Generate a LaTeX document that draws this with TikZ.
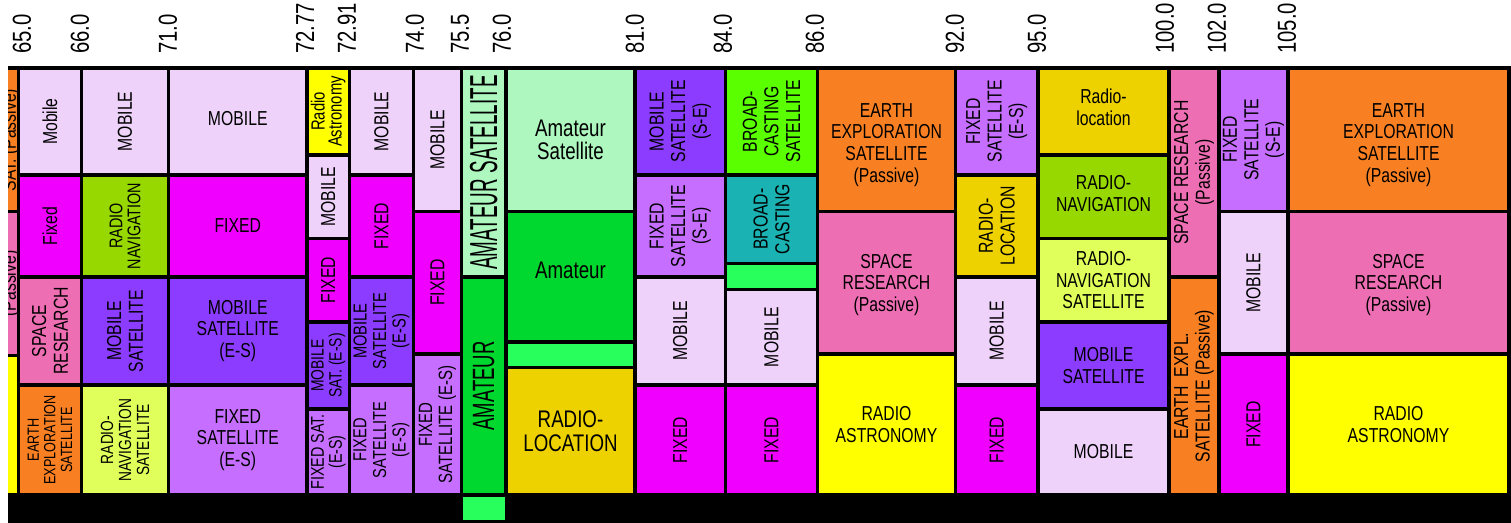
\documentclass[tikz,border=0pt]{standalone}
\usepackage{fontspec}
\setmainfont{Liberation Sans}[FakeStretch=0.78]
\definecolor{mob}{HTML}{EED2FA}
\definecolor{fix}{HTML}{F000FF}
\definecolor{mobsat}{HTML}{8C3CFF}
\definecolor{fixsat}{HTML}{C66EFF}
\definecolor{spr}{HTML}{EE6EB4}
\definecolor{ees}{HTML}{F98022}
\definecolor{ras}{HTML}{FFFF00}
\definecolor{rnav}{HTML}{96D800}
\definecolor{rnsat}{HTML}{E0FF5A}
\definecolor{amsat}{HTML}{AEF7BE}
\definecolor{am}{HTML}{00D830}
\definecolor{brg}{HTML}{28FF5C}
\definecolor{rloc}{HTML}{EED200}
\definecolor{bcs}{HTML}{5AFF00}
\definecolor{bc}{HTML}{1AB2B2}
\newcommand\basefont{\fontsize{10.1}{10.8}\selectfont}
\newcommand\labfont{\fontsize{13}{13}\selectfont}
\tikzset{
  cellframe/.style={draw=black, line width=1.85pt},
  celltext/.style={align=center, inner sep=0pt, font=\basefont, text=black},
  v/.style={rotate=90},
  lab/.style={rotate=90, anchor=west, inner sep=0pt, font=\labfont},
}
% name, x1, y1, x2, y2, fill, node options, text
\newcommand\bandcell[8]{%
  \path[cellframe, fill=#6] (#2,#3) rectangle (#4,#5);
  \node[celltext,#7] (#1) at ({(#2+#4)/2},{(#3+#5)/2}) {#8};}
\begin{document}
\begin{tikzpicture}[x=0.5pt,y=-0.5pt]
\useasboundingbox (0,0) rectangle (1511,523);
% frequency labels
\node[lab] (f650) at (22,54) {65.0};
\node[lab] (f660) at (80,54) {66.0};
\node[lab] (f710) at (168,54) {71.0};
\node[lab] (f7277) at (305,54) {72.77};
\node[lab] (f7291) at (347,54) {72.91};
\node[lab] (f740) at (415,54) {74.0};
\node[lab] (f755) at (460,54) {75.5};
\node[lab] (f760) at (502,54) {76.0};
\node[lab] (f810) at (635,54) {81.0};
\node[lab] (f840) at (723,54) {84.0};
\node[lab] (f860) at (815,54) {86.0};
\node[lab] (f920) at (955,54) {92.0};
\node[lab] (f950) at (1037,54) {95.0};
\node[lab] (f1000) at (1165,54) {100.0};
\node[lab] (f1020) at (1217,54) {102.0};
\node[lab] (f1050) at (1287,54) {105.0};
\begin{scope}
\clip (8,60) rectangle (1511,523);
\fill[black] (8,493) rectangle (1511,523);
% column 0 (partial)
\bandcell{a0}{6}{68}{18.5}{211.5}{ees}{}{}
\bandcell{b0}{6}{211.5}{18.5}{355.5}{spr}{}{}
\bandcell{c0}{6}{355.5}{18.5}{495}{ras}{}{}
\begin{scope}
\clip (6,70) rectangle (16.6,209.6);
\node[celltext,v,anchor=south] (a0t) at (20.5,140) {EARTH EXPLORATION\\SAT. (Passive)};
\end{scope}
\begin{scope}
\clip (6,213.4) rectangle (16.6,353.6);
\node[celltext,v,anchor=south] (b0t) at (20.5,283.5) {SPACE RESEARCH\\(Passive)};
\end{scope}
% column 1
\bandcell{a1}{18.5}{68}{81.5}{175}{mob}{v}{Mobile}
\bandcell{b1}{18.5}{175}{81.5}{277}{fix}{v}{Fixed}
\bandcell{c1}{18.5}{277}{81.5}{385}{spr}{v}{SPACE\\RESEARCH}
\bandcell{d1}{18.5}{385}{81.5}{495}{ees}{v,font=\fontsize{8.1}{8.3}\selectfont}{EARTH\\EXPLORATION\\SATELLITE}
% column 2
\bandcell{a2}{81.5}{68}{168.5}{175}{mob}{v}{MOBILE}
\bandcell{b2}{81.5}{175}{168.5}{277}{rnav}{v,font=\fontsize{9.2}{9}\selectfont}{RADIO\\NAVIGATION}
\bandcell{c2}{81.5}{277}{168.5}{385}{mobsat}{v}{MOBILE\\SATELLITE}
\bandcell{d2}{81.5}{385}{168.5}{495}{rnsat}{v,font=\fontsize{8.8}{9}\selectfont}{RADIO-\\NAVIGATION\\SATELLITE}
% column 3
\bandcell{a3}{168.5}{68}{307}{175}{mob}{yshift=1.5pt}{MOBILE}
\bandcell{b3}{168.5}{175}{307}{277}{fix}{}{FIXED}
\bandcell{c3}{168.5}{277}{307}{385}{mobsat}{}{MOBILE\\SATELLITE\\(E-S)}
\bandcell{d3}{168.5}{385}{307}{495}{fixsat}{}{FIXED\\SATELLITE\\(E-S)}
% column 4
\bandcell{a4}{307}{68}{349.5}{155}{ras}{v,font=\fontsize{9.5}{8.5}\selectfont}{Radio\\Astronomy}
\bandcell{b4}{307}{155}{349.5}{238.5}{mob}{v}{MOBILE}
\bandcell{c4}{307}{238.5}{349.5}{322}{fix}{v}{FIXED}
\bandcell{d4}{307}{322}{349.5}{409}{mobsat}{v,font=\fontsize{8.9}{9}\selectfont}{MOBILE\\SAT. (E-S)}
\bandcell{e4}{307}{409}{349.5}{495}{fixsat}{v,font=\fontsize{9.2}{9}\selectfont}{FIXED SAT.\\(E-S)}
% column 5
\bandcell{a5}{349.5}{68}{413.5}{175}{mob}{v}{MOBILE}
\bandcell{b5}{349.5}{175}{413.5}{277}{fix}{v}{FIXED}
\bandcell{c5}{349.5}{277}{413.5}{385}{mobsat}{v,font=\fontsize{9.4}{9.8}\selectfont}{MOBILE\\SATELLITE\\(E-S)}
\bandcell{d5}{349.5}{385}{413.5}{495}{fixsat}{v,font=\fontsize{9.4}{9.8}\selectfont}{FIXED\\SATELLITE\\(E-S)}
% column 6
\bandcell{a6}{413.5}{68}{461.5}{211.5}{mob}{v}{MOBILE}
\bandcell{b6}{413.5}{211.5}{461.5}{354}{fix}{v}{FIXED}
\bandcell{c6}{413.5}{354}{461.5}{495}{fixsat}{v,font=\fontsize{9.6}{10}\selectfont}{FIXED\\SATELLITE (E-S)}
% column 7
\bandcell{a7}{461.5}{68}{506}{277}{amsat}{v}{\scalebox{0.62}[1]{\fontsize{19.5}{20}\selectfont AMATEUR SATELLITE}}
\bandcell{b7}{461.5}{277}{506}{495}{am}{v}{\scalebox{0.77}[1]{\fontsize{15.4}{16}\selectfont AMATEUR}}
% column 8
\bandcell{a8}{506}{68}{635}{211.5}{amsat}{font=\fontsize{12}{11.6}\selectfont}{Amateur\\Satellite}
\bandcell{b8}{506}{211.5}{635}{342}{am}{font=\fontsize{12}{11.6}\selectfont,yshift=3pt}{Amateur}
\bandcell{c8}{506}{342}{635}{367.5}{brg}{}{}
\bandcell{d8}{506}{367.5}{635}{495}{rloc}{font=\fontsize{12}{11.6}\selectfont}{RADIO-\\LOCATION}
% column 9
\bandcell{a9}{635}{68}{725.5}{175}{mobsat}{v}{MOBILE\\SATELLITE\\(S-E)}
\bandcell{b9}{635}{175}{725.5}{277}{fixsat}{v}{FIXED\\SATELLITE\\(S-E)}
\bandcell{c9}{635}{277}{725.5}{385}{mob}{v}{MOBILE}
\bandcell{d9}{635}{385}{725.5}{495}{fix}{v}{FIXED}
% column 10
\bandcell{a10}{725.5}{68}{817.5}{175}{bcs}{v}{BROAD-\\CASTING\\SATELLITE}
\bandcell{b10}{725.5}{175}{817.5}{263.5}{bc}{v}{BROAD-\\CASTING}
\bandcell{c10}{725.5}{263.5}{817.5}{289.5}{brg}{}{}
\bandcell{d10}{725.5}{289.5}{817.5}{385}{mob}{v}{MOBILE}
\bandcell{e10}{725.5}{385}{817.5}{495}{fix}{v}{FIXED}
% column 11
\bandcell{a11}{817.5}{68}{955.5}{211.5}{ees}{yshift=-2.5pt}{EARTH\\EXPLORATION\\SATELLITE\\(Passive)}
\bandcell{b11}{817.5}{211.5}{955.5}{354}{spr}{yshift=-1pt}{SPACE\\RESEARCH\\(Passive)}
\bandcell{c11}{817.5}{354}{955.5}{495}{ras}{}{RADIO\\ASTRONOMY}
% column 12
\bandcell{a12}{955.5}{68}{1038}{175}{fixsat}{v}{FIXED\\SATELLITE\\(E-S)}
\bandcell{b12}{955.5}{175}{1038}{277}{rloc}{v}{RADIO-\\LOCATION}
\bandcell{c12}{955.5}{277}{1038}{385}{mob}{v}{MOBILE}
\bandcell{d12}{955.5}{385}{1038}{495}{fix}{v}{FIXED}
% column 13
\bandcell{a13}{1038}{68}{1169}{155}{rloc}{yshift=2pt}{Radio-\\location}
\bandcell{b13}{1038}{155}{1169}{238.5}{rnav}{yshift=1.5pt}{RADIO-\\NAVIGATION}
\bandcell{c13}{1038}{238.5}{1169}{322}{rnsat}{}{RADIO-\\NAVIGATION\\SATELLITE}
\bandcell{d13}{1038}{322}{1169}{409}{mobsat}{}{MOBILE\\SATELLITE}
\bandcell{e13}{1038}{409}{1169}{495}{mob}{}{MOBILE}
% column 14
\bandcell{a14}{1169}{68}{1219}{277}{spr}{v}{SPACE RESEARCH\\(Passive)}
\bandcell{b14}{1169}{277}{1219}{495}{ees}{v}{EARTH\ \ EXPL.\\SATELLITE (Passive)}
% column 15
\bandcell{a15}{1219}{68}{1288}{211.5}{fixsat}{v}{FIXED\\SATELLITE\\(S-E)}
\bandcell{b15}{1219}{211.5}{1288}{354}{mob}{v}{MOBILE}
\bandcell{c15}{1219}{354}{1288}{495}{fix}{v}{FIXED}
% column 16
\bandcell{a16}{1288}{68}{1509}{211.5}{ees}{yshift=-2.5pt}{EARTH\\EXPLORATION\\SATELLITE\\(Passive)}
\bandcell{b16}{1288}{211.5}{1509}{354}{spr}{yshift=-1pt}{SPACE\\RESEARCH\\(Passive)}
\bandcell{c16}{1288}{354}{1509}{495}{ras}{}{RADIO\\ASTRONOMY}
% small marker in the bottom band
\fill[brg] (463,497) rectangle (505,520);
\end{scope}
\end{tikzpicture}
\end{document}
